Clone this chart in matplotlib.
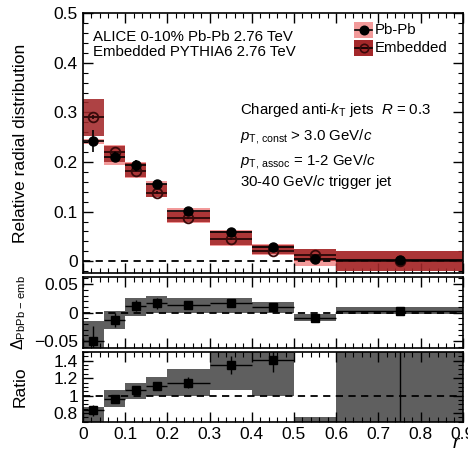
import matplotlib.pyplot as plt
import numpy as np
from matplotlib.patches import Rectangle
from matplotlib.ticker import MultipleLocator, FuncFormatter

plt.rcParams['font.family'] = ['Liberation Sans', 'DejaVu Sans']
plt.rcParams['mathtext.fontset'] = 'custom'
plt.rcParams['mathtext.rm'] = 'Liberation Sans'
plt.rcParams['mathtext.it'] = 'Liberation Sans:italic'

# bins in r
bin_lo = np.array([0.0, 0.05, 0.1, 0.15, 0.2, 0.3, 0.4, 0.5, 0.6])
bin_hi = np.array([0.05, 0.1, 0.15, 0.2, 0.3, 0.4, 0.5, 0.6, 0.9])

# top panel: relative radial distribution
pbpb_val = [0.242, 0.210, 0.193, 0.155, 0.101, 0.058, 0.028, 0.005, 0.002]
pbpb_stat = [0.022, 0.010, 0.012, 0.008, 0.005, 0.004, 0.004, 0.004, 0.003]
pbpb_sys_lo = [0.237, 0.193, 0.168, 0.130, 0.078, 0.031, 0.013, -0.010, -0.020]
pbpb_sys_hi = [0.247, 0.235, 0.200, 0.162, 0.107, 0.062, 0.035, 0.025, 0.020]

emb_val = [0.290, 0.220, 0.182, 0.138, 0.088, 0.044, 0.020, 0.013, 0.000]
emb_stat = [0.004, 0.003, 0.003, 0.003, 0.002, 0.002, 0.002, 0.002, 0.001]
emb_sys_lo = [0.253, 0.200, 0.170, 0.130, 0.080, 0.032, 0.015, 0.000, -0.020]
emb_sys_hi = [0.327, 0.232, 0.198, 0.155, 0.100, 0.060, 0.033, 0.025, 0.020]

# middle panel: difference Pb-Pb - embedded
diff_val = [-0.050, -0.013, 0.012, 0.016, 0.0135, 0.016, 0.009, -0.009, 0.003]
diff_stat = [0.026, 0.012, 0.010, 0.010, 0.006, 0.005, 0.004, 0.003, 0.002]
diff_sys_lo = [-0.080, -0.029, -0.006, 0.000, 0.000, 0.000, 0.000, -0.015, -0.003]
diff_sys_hi = [-0.015, 0.003, 0.026, 0.029, 0.025, 0.026, 0.018, -0.003, 0.009]

# bottom panel: ratio Pb-Pb / embedded
ratio_val = [0.83, 0.96, 1.06, 1.11, 1.15, 1.35, 1.41, 0.40, 2.50]
ratio_stat = [0.06, 0.04, 0.04, 0.05, 0.06, 0.10, 0.14, 0.30, 3.00]
ratio_sys_lo = [0.50, 0.87, 0.96, 1.00, 1.00, 1.06, 0.99, 0.00, 0.00]
ratio_sys_hi = [0.87, 1.06, 1.15, 1.21, 1.30, 2.00, 2.00, 0.75, 3.00]

pink = '#f29a9a'
darkred = '#a3282a'
gray = '#5f5f5f'

fig = plt.figure(figsize=(4.68, 4.53), dpi=100)
ax1 = fig.add_axes([0.177, 0.397, 0.812, 0.574])
ax2 = fig.add_axes([0.177, 0.231, 0.812, 0.158])
ax3 = fig.add_axes([0.177, 0.069, 0.812, 0.154])

xc = (bin_lo + bin_hi) / 2
xw = (bin_hi - bin_lo) / 2


def boxes(ax, lo, hi, color, alpha=1.0, z=1):
    for i in range(len(bin_lo)):
        ax.add_patch(Rectangle((bin_lo[i], lo[i]), bin_hi[i] - bin_lo[i], hi[i] - lo[i],
                               facecolor=color, edgecolor='none', alpha=alpha, zorder=z))


# top
boxes(ax1, pbpb_sys_lo, pbpb_sys_hi, pink, z=1)
boxes(ax1, emb_sys_lo, emb_sys_hi, darkred, alpha=0.88, z=2)
ax1.errorbar(xc, emb_val, xerr=xw, yerr=emb_stat, fmt='o', mfc='none', mec='#3a0a0a',
             color='#2a0808', ms=7, mew=1.3, elinewidth=1.3, capsize=0, zorder=4)
ax1.errorbar(xc, pbpb_val, xerr=xw, yerr=pbpb_stat, fmt='o', color='black',
             ms=6.5, elinewidth=1.2, capsize=0, zorder=5)
ax1.axhline(0, color='black', ls=(0, (4, 3)), lw=1.3, zorder=3)
ax1.set_ylim(-0.024, 0.5)
ax1.set_ylabel('Relative radial distribution', fontsize=12.5)
ax1.set_yticks([0, 0.1, 0.2, 0.3, 0.4, 0.5])
ax1.yaxis.set_minor_locator(MultipleLocator(0.02))

ax1.text(0.024, 0.466, 'ALICE 0-10% Pb-Pb 2.76 TeV\nEmbedded PYTHIA6 2.76 TeV',
         fontsize=10.8, va='top', linespacing=1.05)
ax1.text(0.372, 0.305, r'Charged anti-$k_{\mathrm{T}}$ jets  $R$ = 0.3', fontsize=10.8, va='center')
ax1.text(0.372, 0.251, r'$p_{\mathrm{T,\,const}}$ > 3.0 GeV/$c$', fontsize=10.8, va='center')
ax1.text(0.372, 0.201, r'$p_{\mathrm{T,\,assoc}}$ = 1-2 GeV/$c$', fontsize=10.8, va='center')
ax1.text(0.372, 0.159, r'30-40 GeV/$c$ trigger jet', fontsize=10.8, va='center')

# legend
for ly, col, lab, filled in [(0.466, pink, 'Pb-Pb', True), (0.430, darkred, 'Embedded', False)]:
    ax1.add_patch(Rectangle((0.643, ly - 0.016), 0.045, 0.032, facecolor=col,
                            edgecolor='none', zorder=6))
    ax1.plot([0.645, 0.686], [ly, ly], color='black', lw=1.2, zorder=7)
    ax1.plot([0.6655], [ly], 'o', ms=6, mfc='black' if filled else 'none',
             mec='black' if filled else '#3a0a0a', mew=1.2, zorder=8)
    ax1.text(0.692, ly, lab, fontsize=10.8, va='center', zorder=8)

# middle
boxes(ax2, diff_sys_lo, diff_sys_hi, gray)
ax2.errorbar(xc, diff_val, xerr=xw, yerr=diff_stat, fmt='s', color='black',
             ms=5.5, elinewidth=1.0, capsize=0, zorder=4)
ax2.axhline(0, color='black', ls=(0, (4, 3)), lw=1.3, zorder=3)
ax2.set_ylim(-0.063, 0.063)
ax2.set_yticks([-0.05, 0, 0.05])
ax2.yaxis.set_minor_locator(MultipleLocator(0.01))
ax2.set_ylabel(r'$\Delta_{\mathrm{PbPb\,-\,emb}}$', fontsize=11.5, labelpad=2)

# bottom
boxes(ax3, ratio_sys_lo, ratio_sys_hi, gray)
ax3.errorbar(xc, ratio_val, xerr=xw, yerr=ratio_stat, fmt='s', color='black',
             ms=5.5, elinewidth=1.0, capsize=0, zorder=4)
ax3.axhline(1, color='black', ls=(0, (4, 3)), lw=1.3, zorder=3)
ax3.set_ylim(0.7, 1.5)
ax3.set_yticks([0.8, 1.0, 1.2, 1.4])
ax3.yaxis.set_minor_locator(MultipleLocator(0.05))
ax3.set_ylabel('Ratio', fontsize=12.5)
fig.text(0.975, 0.022, '$r$', fontsize=14, ha='center', va='center')

fmt = FuncFormatter(lambda v, p: ('%g' % round(v, 3)).replace('-', '\u2212'))
for ax in (ax1, ax2, ax3):
    ax.set_xlim(0, 0.9)
    ax.xaxis.set_major_locator(MultipleLocator(0.1))
    ax.xaxis.set_minor_locator(MultipleLocator(0.02))
    ax.xaxis.set_major_formatter(fmt)
    ax.yaxis.set_major_formatter(fmt)
    ax.tick_params(which='both', direction='in', top=True, right=True, labelsize=12.5)
    ax.tick_params(which='major', length=7, width=1)
    ax.tick_params(which='minor', length=3.5, width=0.8)
    for s in ax.spines.values():
        s.set_linewidth(1.2)
    ax.yaxis.set_label_coords(-0.145, 0.5)
ax1.tick_params(labelbottom=False)
ax2.tick_params(labelbottom=False)

fig.savefig('out.png', dpi=100)
